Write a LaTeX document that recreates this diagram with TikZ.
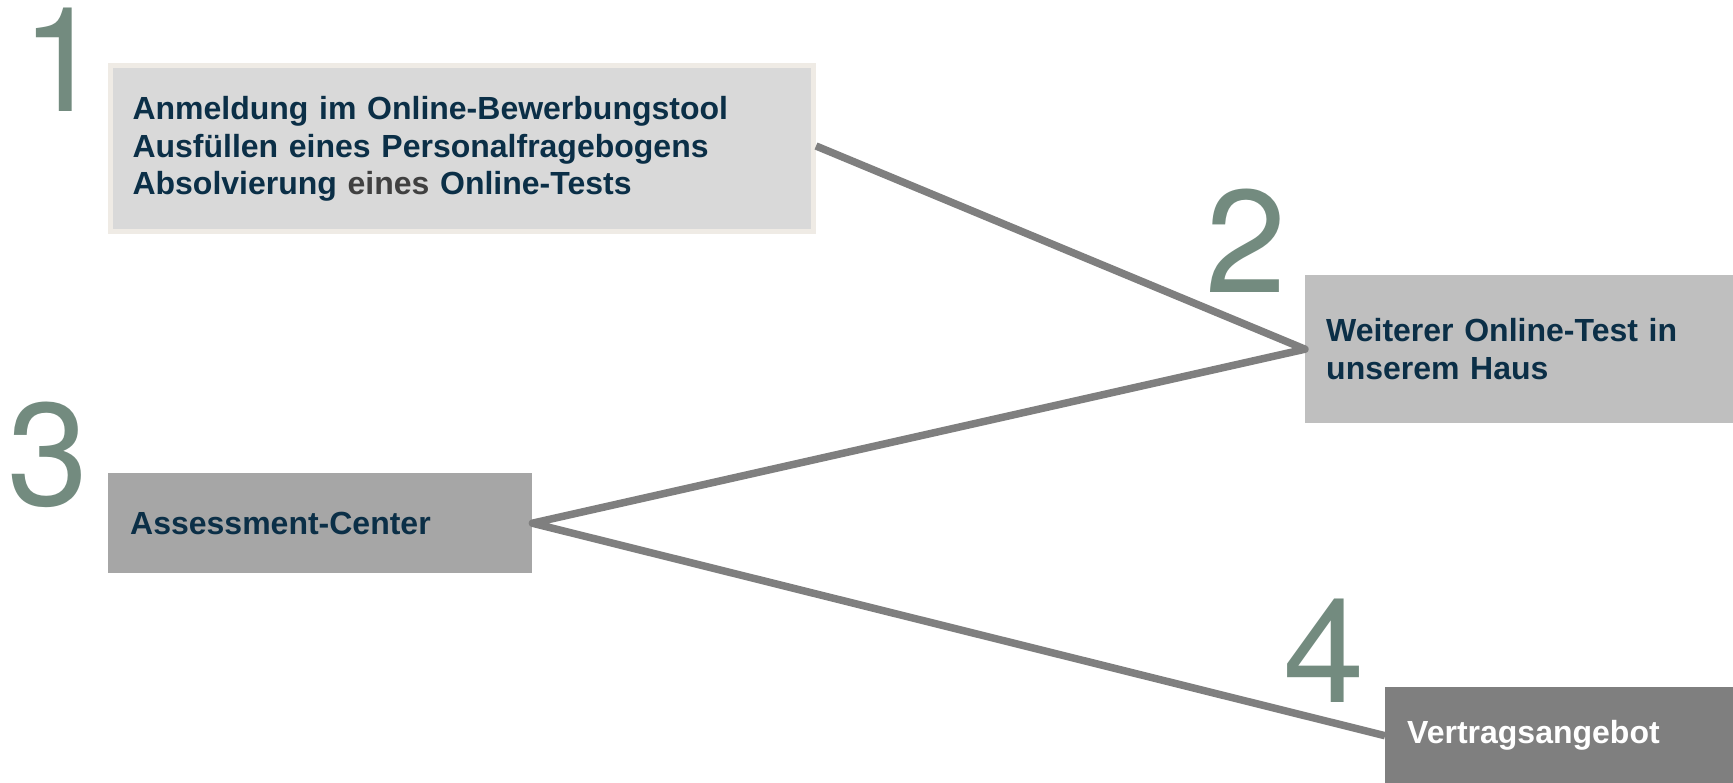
\documentclass[tikz,border=0pt]{standalone}
\usepackage{fontspec}
\setmainfont{Liberation Sans}
\newfontfamily\numfont{TeX Gyre Heros}
\definecolor{numcol}{HTML}{738B7F}
\definecolor{txtcol}{HTML}{0B2F47}
\definecolor{eincol}{HTML}{404040}
\definecolor{linecol}{HTML}{7F7F7F}
\definecolor{boxa}{HTML}{D9D9D9}
\definecolor{boxb}{HTML}{BFBFBF}
\definecolor{boxc}{HTML}{A6A6A6}
\definecolor{boxd}{HTML}{7F7F7F}
\definecolor{beige}{HTML}{EFEBE5}
\begin{document}
\begin{tikzpicture}[x=1pt,y=-1pt,
  bignum/.style={font=\numfont\fontsize{146}{146}\selectfont, text=numcol, inner sep=0pt, anchor=base west},
  stepbox/.style={anchor=north west, align=left, inner ysep=0pt,
     font=\fontsize{32}{37.6}\selectfont\bfseries, text=txtcol},
  conn/.style={draw=linecol, line width=7.5pt, line join=round}]
\useasboundingbox (0,0) rectangle (1733,783);
% boxes
\node[stepbox, fill=boxa, draw=beige, line width=5pt, minimum height=166pt,
      text width=658.5pt, inner xsep=22.5pt] (b1) at (107.5,63.5)
  {Anmeldung im Online-Bewerbungstool\\Ausfüllen eines Personalfragebogens\\Absolvierung {\color{eincol}eines} Online-Tests};
\node[stepbox, fill=boxb, minimum height=148pt, text width=387pt, inner xsep=21pt] (b2) at (1305,275)
  {Weiterer Online-Test in\\unserem Haus};
\node[stepbox, fill=boxc, minimum height=100pt, text width=380pt, inner xsep=22pt] (b3) at (108,473)
  {Assessment-Center};
\node[stepbox, fill=boxd, minimum height=97pt, text width=304pt, inner xsep=22pt, text=white] (b4) at (1385,687)
  {Vertragsangebot};
% numbers
\node[bignum] (n1) at (21,112) {1};
\node[bignum] (n2) at (1205,293) {2};
\node[bignum] (n3) at (7,505) {3};
\node[bignum] (n4) at (1283,702) {4};
% connectors
\path (b1.east) ++(0,-3) coordinate (c1);
\draw[conn] (c1) -- (b2.west) -- (b3.east) -- (b4.west);
\end{tikzpicture}
\end{document}
